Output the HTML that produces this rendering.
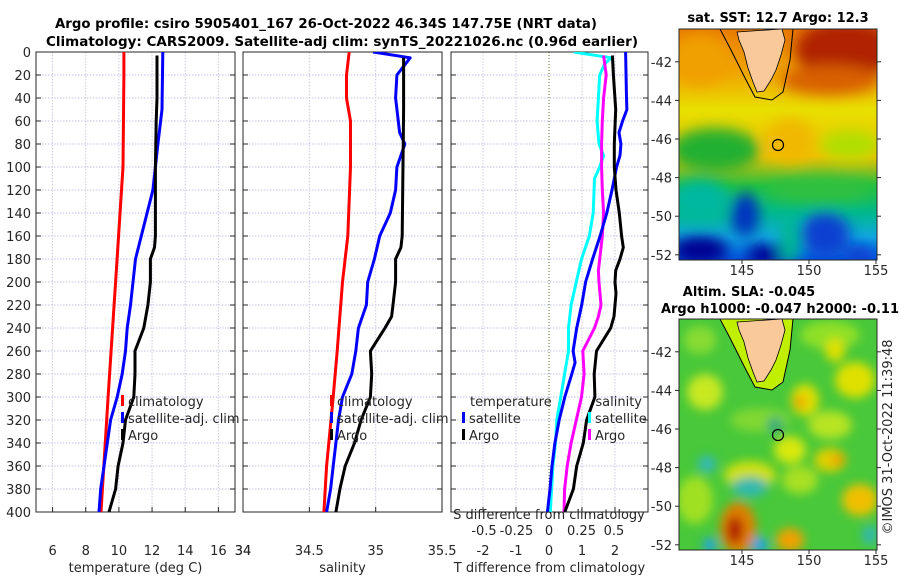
<!DOCTYPE html>
<html><head><meta charset="utf-8"><style>
html,body{margin:0;padding:0;background:#fff;}
svg{display:block;font-family:"DejaVu Sans","Liberation Sans",sans-serif;}
.tk{font-size:13px;fill:#262626;}
.tt{font-size:13px;font-weight:bold;fill:#000;}
</style></head><body>
<svg id="fig" width="900" height="580" viewBox="0 0 900 580" xmlns="http://www.w3.org/2000/svg">
<defs>
<clipPath id="c1"><rect x="36" y="52" width="199" height="460"/></clipPath>
<clipPath id="c2"><rect x="243" y="52" width="199" height="460"/></clipPath>
<clipPath id="c3"><rect x="451" y="52" width="197" height="460"/></clipPath>
<clipPath id="cm1"><rect x="679" y="29" width="198" height="231"/></clipPath>
<clipPath id="cm2"><rect x="679" y="319" width="198" height="231"/></clipPath>
<filter id="bl" x="-50%" y="-50%" width="200%" height="200%"><feGaussianBlur stdDeviation="7"/></filter>
<filter id="bl2" x="-50%" y="-50%" width="200%" height="200%"><feGaussianBlur stdDeviation="5"/></filter>
<linearGradient id="sstg" x1="0" y1="0" x2="0" y2="1">
<stop offset="0" stop-color="#e87a00"/><stop offset="0.2" stop-color="#f0a800"/><stop offset="0.35" stop-color="#e8e000"/>
<stop offset="0.55" stop-color="#f0c000"/><stop offset="0.68" stop-color="#20c040"/><stop offset="0.8" stop-color="#00b890"/>
<stop offset="0.9" stop-color="#10a8e0"/><stop offset="1" stop-color="#0050e0"/></linearGradient>
</defs>

<g>
<text class="tt" x="326" y="28" text-anchor="middle" textLength="542" lengthAdjust="spacingAndGlyphs">Argo profile: csiro 5905401_167 26-Oct-2022 46.34S 147.75E (NRT data)</text>
<text class="tt" x="342" y="46" text-anchor="middle" textLength="592" lengthAdjust="spacingAndGlyphs">Climatology: CARS2009. Satellite-adj clim: synTS_20221026.nc (0.96d earlier)</text>
</g>

<g id="axes"></g>

<!-- SST map -->
<g>
<g clip-path="url(#cm1)">
<rect x="679" y="29" width="198" height="231" fill="url(#sstg)"/>
<g filter="url(#bl)">
<ellipse cx="845" cy="50" rx="50" ry="30" fill="#b02000"/>
<ellipse cx="830" cy="80" rx="50" ry="15" fill="#d86000"/>
<ellipse cx="700" cy="60" rx="30" ry="25" fill="#f0a000"/>
<ellipse cx="715" cy="150" rx="45" ry="22" fill="#20b030"/>
<ellipse cx="850" cy="145" rx="30" ry="15" fill="#b0e000"/>
<ellipse cx="790" cy="140" rx="25" ry="22" fill="#f0b800"/>
<ellipse cx="820" cy="190" rx="55" ry="12" fill="#30c040"/>
<ellipse cx="700" cy="200" rx="30" ry="20" fill="#00b8a0"/>
<ellipse cx="745" cy="215" rx="14" ry="22" fill="#0030c0"/>
<ellipse cx="825" cy="235" rx="25" ry="22" fill="#1040d0"/>
<ellipse cx="700" cy="250" rx="28" ry="14" fill="#000090"/>
<ellipse cx="765" cy="255" rx="18" ry="10" fill="#000090"/>
<ellipse cx="790" cy="240" rx="10" ry="25" fill="#00b890"/>
<ellipse cx="860" cy="255" rx="14" ry="10" fill="#1040d0"/>
</g>
<path d="M720,29 L730,48 L745,78 L755,97 L772,100 L783,92 L790,60 L793,29" fill="none" stroke="#000" stroke-width="1"/>
<path d="M737,32 L782,29 L785,40 L781,55 L776,70 L771,80 L764,91 L757,92 L753,82 L748,68 L744,52 L739,40 Z" fill="#f9c99a" stroke="#000" stroke-width="0.8"/>
<circle cx="778" cy="145" r="5.5" fill="none" stroke="#000" stroke-width="1.2"/>
</g>
<rect x="679" y="29" width="198" height="231" fill="none" stroke="#262626" stroke-width="1"/>
</g>

<!-- SLA map -->
<g>
<g clip-path="url(#cm2)">
<rect x="679" y="319" width="198" height="231" fill="#48c83a"/>
<g filter="url(#bl2)">
<ellipse cx="700" cy="340" rx="16" ry="14" fill="#88dc30"/>
<ellipse cx="830" cy="335" rx="30" ry="14" fill="#90e028"/>
<ellipse cx="705" cy="392" rx="18" ry="18" fill="#c8e820"/>
<ellipse cx="760" cy="420" rx="30" ry="12" fill="#80d830"/>
<ellipse cx="805" cy="400" rx="14" ry="16" fill="#e0e000"/>
<ellipse cx="800" cy="402" rx="6" ry="7" fill="#f0a000"/>
<ellipse cx="830" cy="425" rx="22" ry="14" fill="#b8e420"/>
<ellipse cx="855" cy="380" rx="20" ry="18" fill="#e0e000"/>
<ellipse cx="835" cy="350" rx="10" ry="12" fill="#e0e000"/>
<ellipse cx="830" cy="460" rx="16" ry="12" fill="#e0d000"/>
<ellipse cx="838" cy="460" rx="6" ry="5" fill="#f08800"/>
<ellipse cx="860" cy="500" rx="18" ry="16" fill="#f0c000"/>
<ellipse cx="800" cy="480" rx="18" ry="14" fill="#a8e020"/>
<ellipse cx="695" cy="500" rx="18" ry="24" fill="#a0e020"/>
<ellipse cx="750" cy="475" rx="26" ry="14" fill="#d0e010"/>
<ellipse cx="750" cy="487" rx="18" ry="10" fill="#30b8b0"/>
<ellipse cx="707" cy="464" rx="9" ry="8" fill="#30b8c0"/>
<ellipse cx="738" cy="528" rx="18" ry="26" fill="#e08000"/>
<ellipse cx="735" cy="530" rx="8" ry="14" fill="#b01800"/>
<ellipse cx="790" cy="540" rx="14" ry="12" fill="#f0a000"/>
<ellipse cx="760" cy="545" rx="8" ry="8" fill="#20a0f0"/>
<ellipse cx="710" cy="545" rx="7" ry="7" fill="#20a0f0"/>
<ellipse cx="775" cy="425" rx="8" ry="8" fill="#30a880"/>
<ellipse cx="790" cy="450" rx="16" ry="14" fill="#d8e810"/>
<ellipse cx="870" cy="535" rx="8" ry="10" fill="#30b8b0"/>
</g>
<path d="M720,319 L730,338 L745,368 L755,387 L772,390 L783,382 L790,350 L793,319" fill="#c0f000" stroke="#000" stroke-width="1"/>
<path d="M737,322 L782,319 L785,330 L781,345 L776,360 L771,370 L764,381 L757,382 L753,372 L748,358 L744,342 L739,330 Z" fill="#f9c99a" stroke="#000" stroke-width="0.8"/>
<circle cx="778" cy="435" r="5.5" fill="none" stroke="#000" stroke-width="1.2"/>
</g>
<rect x="679" y="319" width="198" height="231" fill="none" stroke="#262626" stroke-width="1"/>
</g>

<text class="tt" x="778" y="22" text-anchor="middle">sat. SST: 12.7 Argo: 12.3</text>
<text class="tt" x="749" y="296" text-anchor="middle">Altim. SLA: -0.045</text>
<text class="tt" x="780" y="313" text-anchor="middle">Argo h1000: -0.047 h2000: -0.11</text>
<text class="tk" x="0" y="0" text-anchor="middle" transform="translate(892,437) rotate(-90)">©IMOS 31-Oct-2022 11:39:48</text>
</svg>

<script>
// ---- data ----
const tClimDepth = [0, 20, 100, 200, 300, 400];
const tClimVal = [10.3, 10.3, 10.25, 9.8, 9.35, 8.92];
const tSatDepth = [0, 50, 80, 100, 120, 140, 160, 180, 200, 220, 240, 260, 280, 300, 320, 340, 360, 380, 400];
const tSatVal = [12.65, 12.6, 12.35, 12.2, 12.05, 11.7, 11.35, 11.0, 10.85, 10.7, 10.5, 10.4, 10.2, 9.9, 9.5, 9.3, 9.1, 8.9, 8.8];
const tArgoDepth = [3, 40, 60, 100, 160, 170, 180, 200, 220, 240, 260, 280, 300, 320, 340, 360, 380, 400];
const tArgoVal = [12.3, 12.3, 12.25, 12.2, 12.2, 12.15, 11.9, 11.9, 11.75, 11.5, 10.97, 10.97, 10.9, 10.4, 10.25, 9.95, 9.8, 9.4];

const sClimDepth = [0, 20, 40, 60, 100, 160, 200, 260, 300, 360, 400];
const sClimVal = [34.80, 34.78, 34.78, 34.81, 34.81, 34.79, 34.75, 34.71, 34.68, 34.63, 34.61];
const sSatDepth = [0, 5, 20, 40, 70, 80, 100, 120, 140, 160, 180, 200, 220, 240, 260, 280, 300, 320, 340, 360, 380, 400];
const sSatVal = [34.98, 35.26, 35.16, 35.15, 35.18, 35.22, 35.16, 35.15, 35.11, 35.03, 34.99, 34.94, 34.93, 34.87, 34.85, 34.82, 34.75, 34.72, 34.70, 34.68, 34.66, 34.63];
const sArgoDepth = [5, 50, 160, 170, 180, 200, 220, 230, 240, 260, 280, 300, 320, 340, 360, 380, 400];
const sArgoVal = [35.21, 35.21, 35.20, 35.19, 35.15, 35.15, 35.13, 35.12, 35.07, 34.96, 34.97, 34.96, 34.89, 34.84, 34.77, 34.73, 34.70];

const dtSatDepth = [0, 40, 50, 60, 70, 80, 90, 100, 120, 140, 160, 180, 200, 220, 240, 260, 270, 280, 300, 320, 340, 360, 380, 400];
const dtSatVal = [2.32, 2.35, 2.36, 2.23, 2.12, 2.18, 2.15, 2.05, 1.91, 1.75, 1.55, 1.32, 1.11, 0.99, 0.84, 0.73, 0.79, 0.69, 0.48, 0.31, 0.18, 0.09, 0.03, -0.05];
const dtArgoDepth = [3, 20, 50, 80, 100, 120, 140, 160, 170, 180, 190, 200, 210, 230, 240, 260, 280, 300, 320, 340, 360, 380, 400];
const dtArgoVal = [1.92, 1.95, 2.02, 1.98, 1.98, 2.03, 2.13, 2.2, 2.25, 2.15, 2.02, 2.0, 2.03, 1.97, 1.87, 1.44, 1.37, 1.39, 1.14, 1.04, 0.84, 0.74, 0.48];
const dsSatDepth = [0, 5, 10, 20, 40, 60, 80, 90, 100, 110, 140, 160, 180, 200, 220, 240, 260, 280, 300, 320, 340, 360, 380, 400];
const dsSatVal = [0.19, 0.48, 0.43, 0.39, 0.38, 0.37, 0.385, 0.42, 0.39, 0.35, 0.34, 0.31, 0.25, 0.21, 0.17, 0.15, 0.15, 0.12, 0.09, 0.06, 0.05, 0.03, 0.02, 0.01];
const dsArgoDepth = [3, 20, 40, 60, 80, 100, 120, 140, 160, 180, 190, 200, 220, 230, 240, 260, 280, 300, 320, 340, 360, 380, 400];
const dsArgoVal = [0.42, 0.44, 0.42, 0.41, 0.405, 0.405, 0.41, 0.42, 0.41, 0.39, 0.38, 0.385, 0.40, 0.38, 0.35, 0.26, 0.27, 0.25, 0.21, 0.17, 0.14, 0.12, 0.115];

const depthTicks = [0,20,40,60,80,100,120,140,160,180,200,220,240,260,280,300,320,340,360,380,400];
const tTicks = [6, 8, 10, 12, 14, 16];
const sTicks = [34, 34.5, 35, 35.5];
const dtTicks = [-2, -1, 0, 1, 2];
const dsTicks = [-0.5, -0.25, 0, 0.25, 0.5];
const dsTickLabels = ["-0.5", "-0.25", "0", "0.25", "0.5"];
const latTicks = [-42, -44, -46, -48, -50, -52];
const lonTicks = [145, 150, 155];

// ---- scales ----
const yD = d => 52 + d * 1.15;
const xT = t => 36 + (t - 5) * 16.58;
const xS = s => 243 + (s - 34) * 132.7;
const xDT = v => 549 + v * 33;
const xDS = v => 549 + v * 130;
const latY1 = la => 29 + (-40.3 - la) * 19.3;
const latY2 = la => 319 + (-40.3 - la) * 19.3;
const lonX = lo => 679 + (lo - 140.3) * 13.4;

const NS = "http://www.w3.org/2000/svg";
const g = document.getElementById("axes");
function mk(tag, attrs, parent) {
  const e = document.createElementNS(NS, tag);
  for (const k in attrs) e.setAttribute(k, attrs[k]);
  (parent || g).appendChild(e);
  return e;
}
function txt(s, x, y, anchor, cls, parent) {
  const e = mk("text", {x: x, y: y, "text-anchor": anchor, "class": cls || "tk"}, parent);
  e.textContent = s;
  return e;
}

const panels = [
  {x0: 36, x1: 235, clip: "c1", name: "temperature-panel", ticks: tTicks, sc: xT, title: "temperature (deg C)"},
  {x0: 243, x1: 442, clip: "c2", name: "salinity-panel", ticks: sTicks, sc: xS, title: "salinity"},
  {x0: 451, x1: 648, clip: "c3", name: "difference-panel", ticks: dtTicks, sc: xDT, title: "T difference from climatology"}
];
panels.forEach((p, i) => {
  const pg = mk("g", {});
  
  
  depthTicks.forEach(d => {
    const l = mk("line", {x1: p.x0, x2: p.x1, y1: yD(d), y2: yD(d), stroke: "#c0c4e8", "stroke-width": 1, "stroke-dasharray": "1.5,1.5"}, pg);
    
    
    mk("line", {x1: p.x0, x2: p.x0 + 5, y1: yD(d), y2: yD(d), stroke: "#262626"}, pg);
    mk("line", {x1: p.x1 - 5, x2: p.x1, y1: yD(d), y2: yD(d), stroke: "#262626"}, pg);
  });
  p.ticks.forEach(t => {
    const X = p.sc(t);
    const zero = (i === 2 && t === 0);
    const l = mk("line", {x1: X, x2: X, y1: 52, y2: 512, stroke: zero ? "#556b2f" : "#d0c8e0", "stroke-width": 1, "stroke-dasharray": zero ? "1,2" : "1.5,1.5"}, pg);
    
    
    mk("line", {x1: X, x2: X, y1: 512, y2: 507, stroke: "#262626"}, pg);
    const lb = txt(String(t), X, 555, "middle", "tk", pg);
    
    
  });
  mk("rect", {x: p.x0, y: 52, width: p.x1 - p.x0, height: 460, fill: "none", stroke: "#262626", "stroke-width": 1}, pg);
  const at = txt(p.title, (p.x0 + p.x1) / 2, 572, "middle", "tk", pg);
  
  
});
depthTicks.forEach(d => {
  const lb = txt(String(d), 31, yD(d) + 5, "end");
  
  
});
const e1 = txt("34", 243, 555, "middle");  

function series(dep, val, sc, color, clip, name, w) {
  let d = "";
  dep.forEach((dd, k) => { d += (k ? "L" : "M") + sc(val[k]).toFixed(1) + "," + yD(dd).toFixed(1); });
  const p = mk("path", {d: d, fill: "none", stroke: color, "stroke-width": w || 3, "stroke-linejoin": "round", "clip-path": "url(#" + clip + ")"});
  
  
}
series(tClimDepth, tClimVal, xT, "#ff0000", "c1", "temperature-climatology-line");
series(tSatDepth, tSatVal, xT, "#0000ff", "c1", "temperature-satellite-line");
series(tArgoDepth, tArgoVal, xT, "#000000", "c1", "temperature-argo-line");
series(sClimDepth, sClimVal, xS, "#ff0000", "c2", "salinity-climatology-line");
series(sSatDepth, sSatVal, xS, "#0000ff", "c2", "salinity-satellite-line");
series(sArgoDepth, sArgoVal, xS, "#000000", "c2", "salinity-argo-line");
series(dsSatDepth, dsSatVal, xDS, "#00ffff", "c3", "salinity-diff-satellite-line");
series(dsArgoDepth, dsArgoVal, xDS, "#ff00ff", "c3", "salinity-diff-argo-line");
series(dtSatDepth, dtSatVal, xDT, "#0000ff", "c3", "temperature-diff-satellite-line");
series(dtArgoDepth, dtArgoVal, xDT, "#000000", "c3", "temperature-diff-argo-line");

const st = txt("S difference from climatology", 549, 519, "middle");


dsTicks.forEach((v, k) => {
  const lb = txt(dsTickLabels[k], xDS(v), 535, "middle");
  
  
});

function legend(x, y, color, label, name) {
  const lg = mk("g", {});
  
  
  mk("rect", {x: x, y: y - 11, width: 3, height: 11, fill: color}, lg);
  txt(label, x + 7, y, "start", "tk", lg);
}
legend(121, 406, "#ff0000", "climatology", "legend-entry-climatology");
legend(121, 423, "#0000ff", "satellite-adj. clim", "legend-entry-satellite-adj");
legend(121, 440, "#000000", "Argo", "legend-entry-argo");
legend(330, 406, "#ff0000", "climatology", "legend-entry-climatology");
legend(330, 423, "#0000ff", "satellite-adj. clim", "legend-entry-satellite-adj");
legend(330, 440, "#000000", "Argo", "legend-entry-argo");
const lt = txt("temperature", 470, 406, "start");  
legend(462, 423, "#0000ff", "satellite", "legend-entry-t-satellite");
legend(462, 440, "#000000", "Argo", "legend-entry-t-argo");
const ls = txt("salinity", 642, 406, "end");  
legend(588, 423, "#00ffff", "satellite", "legend-entry-s-satellite");
legend(588, 440, "#ff00ff", "Argo", "legend-entry-s-argo");

[[latY1, 260, 275], [latY2, 550, 565]].forEach(([ly, by, lby]) => {
  latTicks.forEach(la => {
    const Y = ly(la);
    mk("line", {x1: 877, x2: 881, y1: Y, y2: Y, stroke: "#262626"});
    mk("line", {x1: 679, x2: 675, y1: Y, y2: Y, stroke: "#262626"});
    const lb = txt(String(la), 672, Y + 5, "end");
    
    
  });
  lonTicks.forEach(lo => {
    const X = lonX(lo);
    mk("line", {x1: X, x2: X, y1: by, y2: by + 4, stroke: "#262626"});
    const lb = txt(String(lo), X, lby, "middle");
    
    
  });
});
</script>
</body></html>
